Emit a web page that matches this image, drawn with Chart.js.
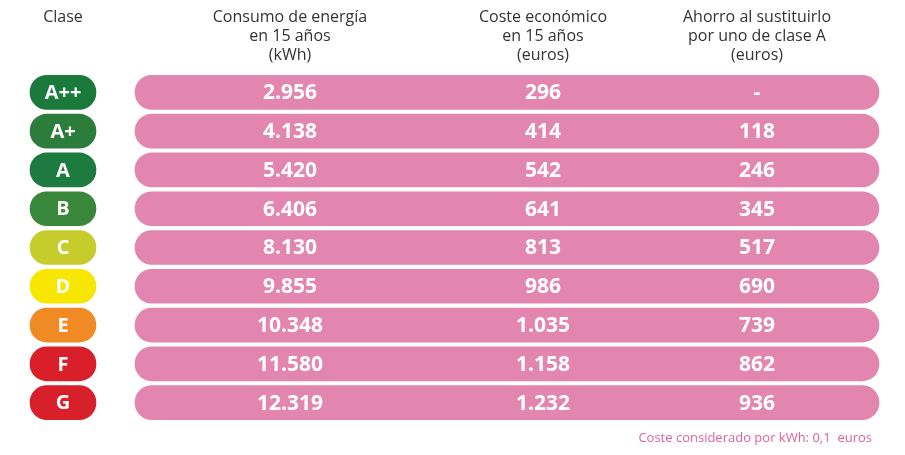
<!DOCTYPE html>
<html><head><meta charset="utf-8">
<script src="https://cdn.jsdelivr.net/npm/chart.js@4"></script>
<style>html,body{margin:0;padding:0;background:#fff}#w{width:905px;height:455px}</style>
</head><body><div id="w"><canvas id="c"></canvas></div>
<script>
const classes = ["A++","A+","A","B","C","D","E","F","G"];
const consumo = ["2.956","4.138","5.420","6.406","8.130","9.855","10.348","11.580","12.319"];
const coste = ["296","414","542","641","813","986","1.035","1.158","1.232"];
const ahorro = ["-","118","246","345","517","690","739","862","936"];
const classColors = ["#1a7a3c","#2c7d3b","#1d7b40","#39873a","#c5cc2c","#f7e600","#f08a24","#d81f2a","#d8202b"];
const headers = [["Clase"],["Consumo de energía","en 15 años","(kWh)"],["Coste económico","en 15 años","(euros)"],["Ahorro al sustituirlo","por uno de clase A","(euros)"]];
const footnote = "Coste considerado por kWh: 0,1  euros";

// layout (x-scale units = pixels)
const pillRange = [30, 96], rowRange = [135, 879];
const colX = [63, 290, 543, 757];

const textPlugin = {
  id: 'txt',
  afterDatasetsDraw(chart) {
    const {ctx, scales: {x, y}} = chart;
    ctx.save();
    ctx.textAlign = 'center'; ctx.textBaseline = 'middle';
    ctx.fillStyle = '#fff';
    classes.forEach((c, i) => {
      const py = y.getPixelForValue(i) + 1;
      ctx.font = 'bold 20px "Open Sans"';
      ctx.fillText(c, x.getPixelForValue(colX[0]), py);
      ctx.font = 'bold 21px "Open Sans"';
      ctx.fillText(consumo[i], x.getPixelForValue(colX[1]), py);
      ctx.fillText(coste[i], x.getPixelForValue(colX[2]), py);
      ctx.fillText(ahorro[i], x.getPixelForValue(colX[3]), py);
    });
    ctx.fillStyle = '#333';
    ctx.font = '16px "Open Sans"';
    headers.forEach((h, k) => {
      h.forEach((line, j) => ctx.fillText(line, x.getPixelForValue(colX[k]), 17 + j * 19));
    });
    ctx.fillStyle = '#e0609a';
    ctx.font = '13px "Open Sans"';
    ctx.textAlign = 'right';
    ctx.fillText(footnote, x.getPixelForValue(872), 438);
    ctx.restore();
  }
};

new Chart(document.getElementById('c'), {
  type: 'bar',
  data: {
    labels: classes,
    datasets: [
      {data: classes.map(() => pillRange), backgroundColor: classColors, barThickness: 34, borderRadius: 17, borderSkipped: false, grouped: false},
      {data: classes.map(() => rowRange), backgroundColor: '#e286af', barThickness: 34, borderRadius: 17, borderSkipped: false, grouped: false}
    ]
  },
  options: {
    indexAxis: 'y', responsive: true, maintainAspectRatio: false, animation: false,
    layout: {padding: {top: 73, bottom: 33, left: 0, right: 0}},
    plugins: {legend: {display: false}, tooltip: {enabled: false}},
    scales: {
      x: {type: 'linear', min: 0, max: 905, display: false},
      y: {display: false, offset: true}
    }
  },
  plugins: [textPlugin]
});
</script></body></html>
